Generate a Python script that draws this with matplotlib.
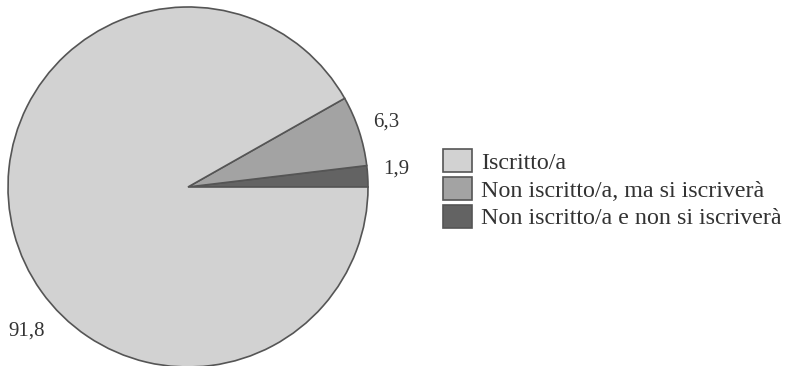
import numpy as np
import matplotlib.pyplot as plt

# Shares (percent), drawn counterclockwise from 3 o'clock
categories = ["Non iscritto/a e non si iscriverà", "Non iscritto/a, ma si iscriverà", "Iscritto/a"]
values = [1.9, 6.3, 91.8]
value_labels = ["1,9", "6,3", "91,8"]
colors = ["#636363", "#a3a3a3", "#d2d2d2"]

plt.rcParams['font.family'] = ['Liberation Serif', 'DejaVu Serif']

fig = plt.figure(figsize=(7.91, 3.66), dpi=100)
ax = fig.add_axes([8 / 791, -1 / 366, 360 / 791, 360 / 366])

wedges, texts = ax.pie(values, labels=value_labels, colors=colors, startangle=0,
                       counterclock=True, labeldistance=1.16,
                       wedgeprops=dict(edgecolor="#555555", linewidth=1.2),
                       textprops=dict(fontsize=15, color="#333333"))
ax.set_xlim(-1, 1)
ax.set_ylim(-1, 1)
ax.set_aspect("equal")

# label angles / distances (the big slice label sits low-left)
label_ang = [5.0, 18.2, 221.8]
label_r = [1.16, 1.16, 1.2]
for t, a, r in zip(texts, label_ang, label_r):
    a = np.deg2rad(a)
    t.set_position((r * np.cos(a), r * np.sin(a)))
    t.set_ha("center")
    t.set_va("center")

# legend order: light, medium, dark
order = [2, 1, 0]
leg = fig.legend([wedges[i] for i in order], [categories[i] for i in order],
                 loc="center left", bbox_to_anchor=(443 / 791, 0.483),
                 frameon=False, fontsize=17.3, borderpad=0, borderaxespad=0,
                 handlelength=1.2, handleheight=1.12, handletextpad=0.4,
                 labelspacing=0.12, labelcolor="#333333")

fig.savefig("out.png", dpi=100)
